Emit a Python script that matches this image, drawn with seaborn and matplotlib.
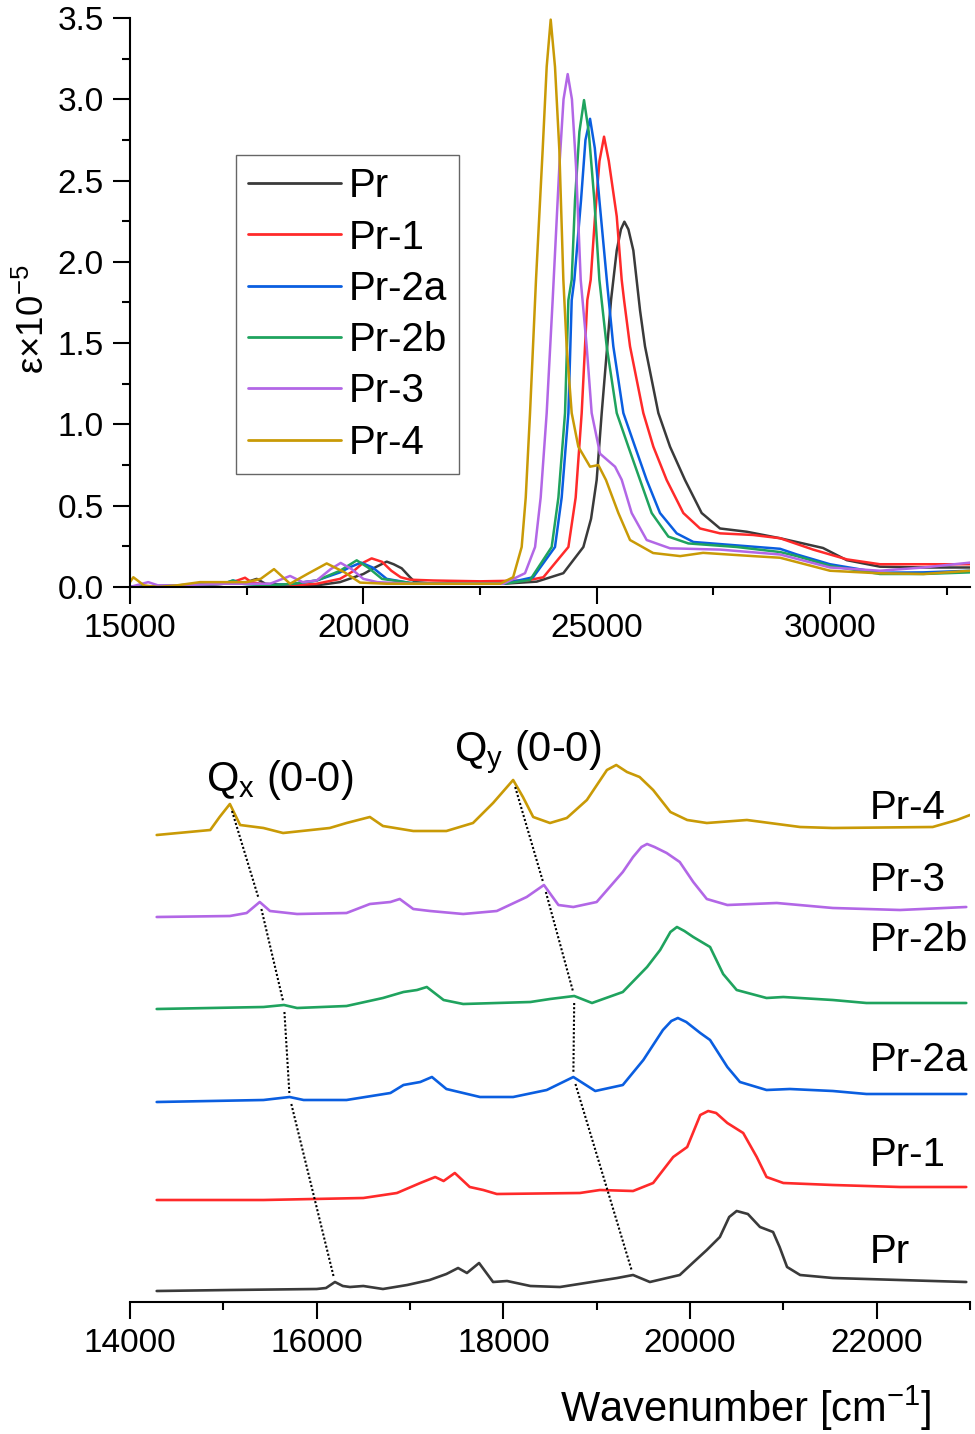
import numpy as np
import pandas as pd
import matplotlib
matplotlib.use("Agg")
import matplotlib.pyplot as plt
from matplotlib.ticker import MultipleLocator, FormatStrFormatter
import seaborn as sns

# ---- data ----
names = ["Pr", "Pr-1", "Pr-2a", "Pr-2b", "Pr-3", "Pr-4"]
colors = ["#3a3a3a", "#ff2a2a", "#0a5ee0", "#1fa35e", "#b267e6", "#c99a06"]

# top panel: molar absorptivity (x 10^-5) vs wavenumber
top_x_pr = [15000, 15500, 16000, 16500, 17000, 17500, 17715, 17900, 18500, 19000, 19500, 20000,
            20250, 20501, 20650, 20822, 21000, 21108, 21500, 22000, 23000, 23715, 24286, 24715,
            24880, 25000, 25108, 25308, 25430, 25520, 25594, 25680, 25786, 25930, 26036, 26322,
            26572, 26893, 27250, 27643, 28215, 28930, 29850, 30360, 31070, 32000, 33000]
top_y_pr = [0.0, 0.0, 0.01, 0.01, 0.02, 0.03, 0.05, 0.02, 0.01, 0.01, 0.03, 0.08,
            0.12, 0.156, 0.14, 0.115, 0.06, 0.03, 0.02, 0.02, 0.02, 0.033, 0.085, 0.246,
            0.42, 0.658, 1.07, 1.765, 2.07, 2.2, 2.247, 2.2, 2.07, 1.70, 1.48, 1.07,
            0.863, 0.658, 0.455, 0.36, 0.34, 0.30, 0.24, 0.165, 0.125, 0.12, 0.12]

top_x_pr1 = [15000, 16000, 17000, 17300, 17465, 17600, 18000, 18500, 19000, 19500, 19800, 20000,
             20178, 20400, 20600, 20800, 21000, 21500, 22500, 23500, 23858, 24394, 24550, 24679,
             24800, 24872, 24965, 25060, 25158, 25260, 25430, 25536, 25587, 25715, 26000, 26215,
             26500, 26857, 27215, 27643, 28350, 28930, 29640, 30360, 31070, 32000, 33000]
top_y_pr1 = [0.0, 0.01, 0.02, 0.04, 0.057, 0.03, 0.01, 0.01, 0.02, 0.05, 0.1, 0.15,
             0.176, 0.155, 0.1, 0.06, 0.045, 0.04, 0.035, 0.04, 0.06, 0.246, 0.55, 1.07,
             1.765, 1.89, 2.28, 2.62, 2.77, 2.62, 2.28, 1.89, 1.765, 1.48, 1.07, 0.863,
             0.658, 0.455, 0.36, 0.33, 0.32, 0.30, 0.23, 0.17, 0.14, 0.14, 0.14]

top_x_pr2a = [15000, 16000, 17000, 17215, 17400, 18000, 18500, 19000, 19500, 19700, 19950, 20200,
              20500, 21000, 22000, 23000, 23640, 24107, 24250, 24394, 24465, 24522, 24665, 24760,
              24858, 24960, 25058, 25230, 25357, 25572, 25822, 26072, 26357, 26715, 27072, 28000,
              28930, 29290, 30000, 31070, 32000, 33000]
top_y_pr2a = [0.0, 0.01, 0.02, 0.04, 0.02, 0.01, 0.02, 0.04, 0.09, 0.12, 0.15, 0.12,
              0.05, 0.025, 0.02, 0.02, 0.06, 0.246, 0.55, 1.07, 1.765, 1.89, 2.38, 2.75,
              2.88, 2.7, 2.38, 1.85, 1.48, 1.07, 0.863, 0.658, 0.455, 0.33, 0.277, 0.256,
              0.235, 0.2, 0.14, 0.088, 0.09, 0.1]

top_x_pr2b = [15000, 16000, 17000, 17200, 17400, 18000, 18500, 19000, 19500, 19858, 20100, 20400,
              21000, 22000, 23000, 23572, 24036, 24180, 24322, 24394, 24465, 24536, 24630, 24729,
              24830, 24950, 25058, 25215, 25430, 25679, 25930, 26179, 26536, 26965, 28000, 28930,
              29290, 30000, 31070, 32000, 33000]
top_y_pr2b = [0.0, 0.01, 0.02, 0.04, 0.02, 0.01, 0.02, 0.04, 0.1, 0.164, 0.12, 0.05,
              0.025, 0.02, 0.02, 0.043, 0.246, 0.55, 1.07, 1.765, 1.89, 2.38, 2.8, 2.995,
              2.8, 2.38, 1.89, 1.48, 1.07, 0.863, 0.658, 0.455, 0.31, 0.268, 0.246, 0.215,
              0.19, 0.13, 0.08, 0.08, 0.09]

top_x_pr3 = [15000, 15390, 15600, 16000, 17000, 18000, 18430, 18700, 19000, 19300, 19515, 19750,
             20000, 20300, 21000, 22000, 23000, 23465, 23680, 23800, 23929, 24057, 24200, 24290,
             24379, 24470, 24558, 24658, 24786, 24893, 25072, 25394, 25536, 25750, 26072, 26572,
             27643, 28930, 30000, 31070, 32000, 33000]
top_y_pr3 = [0.0, 0.03, 0.01, 0.01, 0.02, 0.02, 0.068, 0.03, 0.04, 0.11, 0.148, 0.11,
             0.05, 0.03, 0.02, 0.02, 0.02, 0.085, 0.246, 0.55, 1.07, 1.765, 2.585, 3.0,
             3.155, 3.0, 2.585, 1.89, 1.48, 1.07, 0.82, 0.74, 0.66, 0.455, 0.289, 0.238,
             0.23, 0.2, 0.12, 0.1, 0.12, 0.15]

top_x_pr4 = [15000, 15071, 15300, 15600, 16000, 16500, 17000, 17500, 17800, 18086, 18430, 18800,
             19215, 19600, 19930, 20500, 21500, 22500, 22930, 23210, 23393, 23480, 23572, 23700,
             23843, 23929, 24015, 24107, 24200, 24286, 24357, 24465, 24607, 24858, 25036, 25200,
             25465, 25715, 26210, 26790, 27280, 28350, 28930, 30000, 31000, 32000, 33000]
top_y_pr4 = [0.03, 0.06, 0.01, 0.0, 0.01, 0.03, 0.03, 0.03, 0.05, 0.11, 0.02, 0.08,
             0.145, 0.09, 0.027, 0.02, 0.02, 0.02, 0.02, 0.06, 0.246, 0.55, 1.07, 1.89,
             2.69, 3.2, 3.49, 3.2, 2.69, 1.89, 1.48, 1.07, 0.863, 0.74, 0.75, 0.658,
             0.455, 0.289, 0.209, 0.19, 0.21, 0.19, 0.18, 0.1, 0.085, 0.08, 0.1]

# bottom panel: offset spectra (arbitrary units)
bot_x_pr = [14286, 15070, 16000, 16100, 16196, 16280, 16357, 16500, 16710, 16970, 17210, 17390,
            17515, 17610, 17740, 17890, 18040, 18290, 18607, 19220, 19390, 19570, 19890, 20040,
            20180, 20320, 20420, 20500, 20620, 20750, 20890, 20960, 21040, 21180, 21530, 21890,
            22960]
bot_y_pr = [0.11, 0.12, 0.13, 0.14, 0.20, 0.16, 0.15, 0.16, 0.13, 0.17, 0.22, 0.28,
            0.34, 0.29, 0.39, 0.20, 0.21, 0.16, 0.15, 0.24, 0.27, 0.20, 0.27, 0.40,
            0.52, 0.65, 0.85, 0.91, 0.88, 0.75, 0.70, 0.55, 0.35, 0.27, 0.24, 0.23,
            0.20]

bot_x_pr1 = [14286, 15430, 16500, 16860, 17110, 17270, 17360, 17480, 17640, 17785, 17930, 18820,
             19035, 19390, 19605, 19820, 19970, 20110, 20195, 20280, 20400, 20570, 20715, 20820,
             21000, 21530, 22250, 22960]
bot_y_pr1 = [1.02, 1.02, 1.04, 1.09, 1.19, 1.25, 1.21, 1.29, 1.15, 1.12, 1.08, 1.09,
             1.12, 1.11, 1.19, 1.45, 1.55, 1.87, 1.91, 1.89, 1.79, 1.69, 1.45, 1.25,
             1.19, 1.17, 1.15, 1.15]

bot_x_pr2a = [14286, 15430, 15710, 15860, 16320, 16790, 16930, 17110, 17235, 17390, 17570, 17750,
              18105, 18465, 18750, 18985, 19280, 19500, 19710, 19800, 19870, 19960, 20110, 20215,
              20400, 20535, 20820, 21070, 21530, 21890, 22960]
bot_y_pr2a = [2.00, 2.02, 2.05, 2.02, 2.02, 2.09, 2.17, 2.20, 2.25, 2.13, 2.09, 2.05,
              2.05, 2.12, 2.25, 2.11, 2.17, 2.42, 2.72, 2.81, 2.84, 2.80, 2.69, 2.62,
              2.35, 2.20, 2.12, 2.13, 2.11, 2.08, 2.08]

bot_x_pr2b = [14286, 15430, 15650, 15790, 16320, 16710, 16930, 17075, 17180, 17360, 17570, 18290,
              18500, 18760, 18950, 19280, 19540, 19680, 19790, 19860, 19940, 20035, 20215, 20355,
              20500, 20820, 21000, 21530, 21890, 22960]
bot_y_pr2b = [2.93, 2.95, 2.97, 2.94, 2.96, 3.04, 3.10, 3.12, 3.15, 3.02, 2.98, 3.00,
              3.03, 3.06, 2.99, 3.10, 3.35, 3.52, 3.70, 3.75, 3.71, 3.65, 3.55, 3.28,
              3.12, 3.04, 3.05, 3.02, 2.99, 2.99]

bot_x_pr3 = [14286, 15070, 15250, 15390, 15500, 15790, 16320, 16570, 16790, 16890, 17035, 17215,
             17570, 17930, 18250, 18435, 18590, 18750, 19000, 19280, 19390, 19480, 19540, 19620,
             19750, 19890, 20035, 20180, 20400, 20930, 21530, 22250, 22960]
bot_y_pr3 = [3.85, 3.86, 3.89, 4.00, 3.91, 3.88, 3.89, 3.98, 4.00, 4.03, 3.93, 3.91,
             3.88, 3.91, 4.05, 4.17, 3.97, 3.95, 4.00, 4.30, 4.45, 4.55, 4.58, 4.55,
             4.49, 4.40, 4.20, 4.03, 3.97, 3.99, 3.94, 3.92, 3.95]

bot_x_pr4 = [14286, 14860, 14960, 15070, 15180, 15430, 15640, 16140, 16320, 16570, 16710, 17035,
             17390, 17675, 17890, 18105, 18210, 18320, 18500, 18680, 18895, 19110, 19210, 19325,
             19460, 19605, 19790, 19970, 20180, 20610, 21180, 21530, 22600, 22860, 23000]
bot_y_pr4 = [4.67, 4.72, 4.85, 4.98, 4.77, 4.74, 4.69, 4.74, 4.79, 4.85, 4.76, 4.71,
             4.71, 4.79, 4.99, 5.22, 5.05, 4.85, 4.79, 4.84, 5.02, 5.32, 5.37, 5.30,
             5.25, 5.12, 4.90, 4.82, 4.79, 4.82, 4.75, 4.74, 4.75, 4.82, 4.87]

# 0-0 band positions (Pr-4, Pr-3, Pr-2b, Pr-2a, Pr) joined by dotted guides
qx_pos = [15070, 15390, 15650, 15710, 16196]
qx_val = [4.98, 4.00, 2.97, 2.05, 0.20]
qy_pos = [18105, 18435, 18760, 18750, 19390]
qy_val = [5.22, 4.17, 3.06, 2.25, 0.27]

# label heights on the right of the bottom panel
label_y = [0.50, 1.47, 2.42, 3.62, 4.22, 4.94]

top_x = [top_x_pr, top_x_pr1, top_x_pr2a, top_x_pr2b, top_x_pr3, top_x_pr4]
top_y = [top_y_pr, top_y_pr1, top_y_pr2a, top_y_pr2b, top_y_pr3, top_y_pr4]
bot_x = [bot_x_pr, bot_x_pr1, bot_x_pr2a, bot_x_pr2b, bot_x_pr3, bot_x_pr4]
bot_y = [bot_y_pr, bot_y_pr1, bot_y_pr2a, bot_y_pr2b, bot_y_pr3, bot_y_pr4]

# ---- style ----
sns.set_theme(style="ticks")
plt.rcParams["font.family"] = ["Liberation Sans", "DejaVu Sans"]
plt.rcParams["mathtext.fontset"] = "custom"
plt.rcParams["mathtext.rm"] = "Liberation Sans"
plt.rcParams["mathtext.it"] = "Liberation Sans"
plt.rcParams["text.color"] = "black"
plt.rcParams["axes.labelcolor"] = "black"
plt.rcParams["lines.solid_joinstyle"] = "round"

fig = plt.figure(figsize=(9.75, 14.34), dpi=100)
ax1 = fig.add_axes([130 / 975, 1 - 587 / 1434, 840 / 975, 569 / 1434])
ax2 = fig.add_axes([130 / 975, 1 - 1302 / 1434, 840 / 975, 580 / 1434])

# ---- top panel ----
for name, xs, ys, c in zip(names, top_x, top_y, colors):
    sns.lineplot(x=xs, y=ys, ax=ax1, color=c, linewidth=1.8, label=name, estimator=None)

ax1.set_xlim(15000, 33000)
ax1.set_ylim(0, 3.5)
ax1.xaxis.set_major_locator(MultipleLocator(5000))
ax1.xaxis.set_minor_locator(MultipleLocator(2500))
ax1.yaxis.set_major_locator(MultipleLocator(0.5))
ax1.yaxis.set_minor_locator(MultipleLocator(0.25))
ax1.yaxis.set_major_formatter(FormatStrFormatter("%.1f"))
ax1.set_xlabel("")
ax1.set_ylabel(r"ε×10$^{\mathregular{-5}}$", fontsize=26.5)
ax1.yaxis.set_label_coords(-0.093, 0.47)
sns.despine(ax=ax1)

leg = ax1.legend(loc="upper left", bbox_to_anchor=(0.126, 0.759), borderaxespad=0,
                 fontsize=29, handlelength=2.3, handletextpad=0.2, labelspacing=0.33,
                 borderpad=0.3, fancybox=False, framealpha=1, edgecolor="#666666")
leg.get_frame().set_linewidth(1.0)
for line in leg.get_lines():
    line.set_linewidth(2.0)

# ---- bottom panel ----
for name, xs, ys, c in zip(names, bot_x, bot_y, colors):
    sns.lineplot(x=xs, y=ys, ax=ax2, color=c, linewidth=1.9, estimator=None, legend=False)

for name, ly in zip(names, label_y):
    ax2.text(21930, ly, name, fontsize=29, ha="left", va="center")


def dotted_guides(ax, xs, ys):
    # dotted segments from each 0-0 band to the next, leaving a small gap at the peaks
    for i in range(len(xs) - 1):
        x0, y0, x1, y1 = xs[i], ys[i], xs[i + 1], ys[i + 1]
        dy = y0 - y1
        t0 = 0.07 / dy
        t1 = 1 - 0.04 / dy
        ax.plot([x0 + (x1 - x0) * t0, x0 + (x1 - x0) * t1],
                [y0 - dy * t0, y0 - dy * t1],
                color="black", linewidth=1.5, linestyle=(0, (1, 1)))


dotted_guides(ax2, qx_pos, qx_val)
dotted_guides(ax2, qy_pos, qy_val)

ax2.text(15607, 5.22, r"Q$_{\mathregular{x}}$ (0-0)", fontsize=30, ha="center", va="center")
ax2.text(18264, 5.50, r"Q$_{\mathregular{y}}$ (0-0)", fontsize=30, ha="center", va="center")

ax2.set_xlim(14000, 23000)
ax2.set_ylim(0, 5.8)
ax2.xaxis.set_major_locator(MultipleLocator(2000))
ax2.xaxis.set_minor_locator(MultipleLocator(1000))
ax2.set_yticks([])
ax2.set_ylabel("")
sns.despine(ax=ax2, left=True)
ax2.set_xlabel(r"Wavenumber [cm$^{\mathregular{-1}}$]", fontsize=30)
ax2.xaxis.set_label_coords(0.733, -0.14)

for ax in (ax1, ax2):
    ax.tick_params(which="major", direction="out", length=12, width=1.5, labelsize=24,
                   pad=7, colors="black")
    ax.tick_params(which="minor", direction="out", length=6, width=1.5, colors="black")
    for s in ax.spines.values():
        s.set_color("black")
        s.set_linewidth(1.5)
    ax.set_facecolor("white")

fig.savefig("out.png", dpi=100, facecolor="white")
